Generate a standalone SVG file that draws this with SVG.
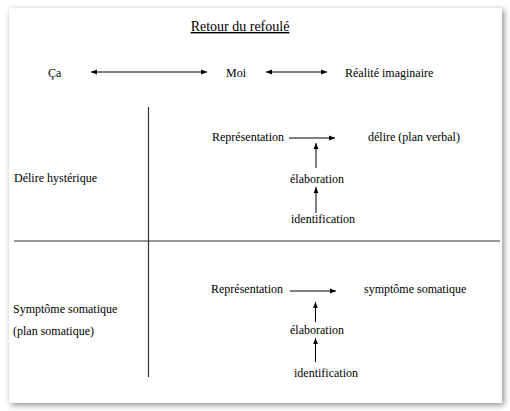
<svg xmlns="http://www.w3.org/2000/svg" width="510" height="411" viewBox="0 0 510 411">
<defs>
<filter id="sh" x="-5%" y="-5%" width="115%" height="115%">
<feGaussianBlur in="SourceAlpha" stdDeviation="3"/>
<feOffset dx="2" dy="2"/>
<feComponentTransfer><feFuncA type="linear" slope="0.45"/></feComponentTransfer>
<feMerge><feMergeNode/><feMergeNode in="SourceGraphic"/></feMerge>
</filter>
<marker id="ah" viewBox="0 0 10 10" refX="10" refY="5" markerWidth="6" markerHeight="6" markerUnits="userSpaceOnUse" orient="auto-start-reverse">
<path d="M0,1 L10,5 L0,9 z" fill="#000"/>
</marker>
</defs>
<style>
text{font-family:"Liberation Serif","Times New Roman",serif;font-size:12px;fill:#000}
.t{font-size:14px;text-decoration:underline}
.a{stroke:#000;stroke-width:1;fill:none}
.d{stroke:#333;stroke-width:1.2;fill:none}
</style>
<rect x="0" y="0" width="510" height="411" fill="#fff"/>
<rect x="9" y="8" width="493" height="395" fill="#fff" filter="url(#sh)"/>
<g id="title"><text class="t" x="240" y="31" text-anchor="middle">Retour du refoulé</text></g>
<g id="ca"><text x="48" y="77">Ça</text></g>
<g id="moi"><text x="226" y="77">Moi</text></g>
<g id="realite"><text x="345" y="77">Réalité imaginaire</text></g>
<g id="dividers">
<line class="d" x1="148.5" y1="107" x2="148.5" y2="377"/>
<line class="d" x1="14" y1="241" x2="500" y2="241"/>
</g>
<g id="delire-hysterique"><text x="14" y="182">Délire hystérique</text></g>
<g id="rep1"><text x="212" y="141">Représentation</text></g>
<g id="delire-verbal"><text x="368" y="141">délire (plan verbal)</text></g>
<g id="elab1"><text x="317" y="183" text-anchor="middle">élaboration</text></g>
<g id="ident1"><text x="323" y="223" text-anchor="middle">identification</text></g>
<g id="symptome"><text x="13" y="313">Symptôme somatique</text><text x="13" y="335">(plan somatique)</text></g>
<g id="rep2"><text x="211" y="293">Représentation</text></g>
<g id="symptome-somatique"><text x="364" y="293">symptôme somatique</text></g>
<g id="elab2"><text x="317" y="334" text-anchor="middle">élaboration</text></g>
<g id="ident2"><text x="326" y="377" text-anchor="middle">identification</text></g>
<g id="connectors">
<line class="a" x1="91" y1="72" x2="207" y2="72" marker-start="url(#ah)" marker-end="url(#ah)"/>
<line class="a" x1="266" y1="72" x2="327" y2="72" marker-start="url(#ah)" marker-end="url(#ah)"/>
<line class="a" x1="289" y1="138" x2="335" y2="138" marker-end="url(#ah)"/>
<line class="a" x1="316" y1="168" x2="316" y2="143" marker-end="url(#ah)"/>
<line class="a" x1="316" y1="213" x2="316" y2="187" marker-end="url(#ah)"/>
<line class="a" x1="290" y1="291" x2="336" y2="291" marker-end="url(#ah)"/>
<line class="a" x1="315.5" y1="322" x2="315.5" y2="302" marker-end="url(#ah)"/>
<line class="a" x1="315.5" y1="362" x2="315.5" y2="338" marker-end="url(#ah)"/>
</g>
</svg>
